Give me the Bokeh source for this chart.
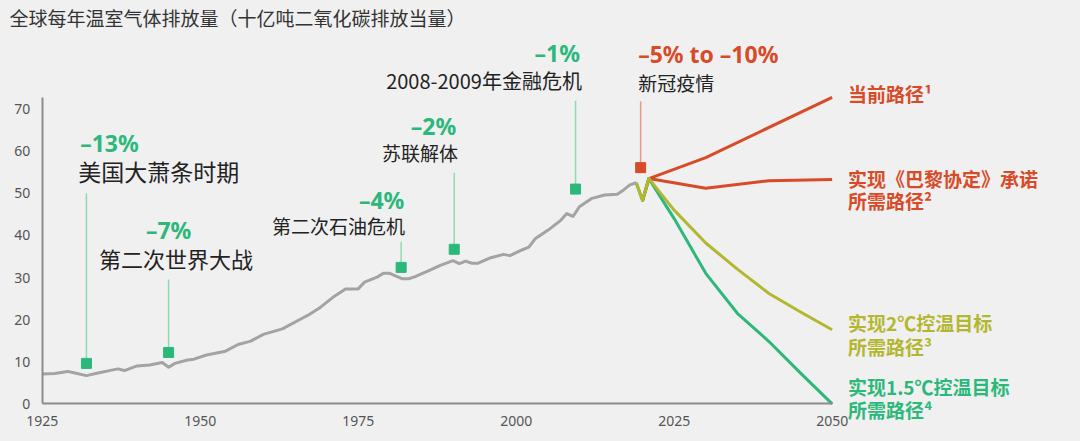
from bokeh.plotting import figure
from bokeh.models import Range1d, Label, FixedTicker
from bokeh.embed import file_html
from bokeh.resources import INLINE

# ---------------- data ----------------
title_text = "全球每年温室气体排放量（十亿吨二氧化碳排放当量）"

hist_years = [1925, 1927, 1929, 1930, 1932, 1934, 1936, 1937, 1938, 1940, 1942, 1944,
              1945, 1946, 1948, 1949, 1951, 1954, 1956, 1958, 1960, 1963, 1966, 1967,
              1969, 1971, 1973, 1975, 1976, 1978, 1979, 1980, 1982, 1983, 1984, 1986,
              1988, 1990, 1991, 1992, 1993, 1994, 1996, 1998, 1999, 2001, 2002, 2003,
              2005, 2007, 2008, 2009, 2010, 2012, 2014, 2016, 2017, 2018, 2019]
hist_values = [7.1, 7.2, 7.7, 7.4, 6.7, 7.4, 8.0, 8.3, 7.9, 9.0, 9.2, 9.8,
               8.7, 9.6, 10.4, 10.6, 11.6, 12.5, 14.1, 14.9, 16.5, 17.8, 20.2, 21.0,
               22.9, 25.3, 27.3, 27.3, 28.9, 30.1, 31.0, 31.0, 29.7, 29.7, 30.2, 31.5,
               32.9, 34.0, 33.3, 33.9, 33.4, 33.4, 34.7, 35.5, 35.2, 36.6, 37.2, 39.2,
               41.2, 43.5, 45.2, 44.5, 46.8, 48.8, 49.6, 49.8, 50.8, 52.0, 52.5]

current_years = [2020, 2021, 2030, 2050]
current_values = [48.3, 53.5, 58.5, 72.8]
paris_years = [2020, 2021, 2030, 2040, 2050]
paris_values = [48.3, 53.5, 51.2, 53.0, 53.3]
two_c_years = [2019, 2020, 2021, 2025, 2030, 2035, 2040, 2045, 2050]
two_c_values = [52.5, 48.3, 53.5, 46.0, 38.2, 32.0, 26.2, 21.8, 17.6]
one_five_years = [2019, 2020, 2021, 2025, 2030, 2035, 2040, 2045, 2050]
one_five_values = [52.5, 48.3, 53.5, 44.0, 31.0, 21.5, 14.8, 7.3, 0.0]

event_years = [1932, 1945, 1981.8, 1990.2, 2009.4, 2019.7]
event_marker_values = [9.6, 12.2, 32.4, 36.7, 51.0, 56.1]
event_leader_tops = [50.0, 29.5, 38.5, 54.9, 72.0, 71.8]
event_changes = ["–13%", "–7%", "–4%", "–2%", "–1%", "–5% to –10%"]
event_names = ["美国大萧条时期", "第二次世界大战", "第二次石油危机", "苏联解体",
               "2008-2009年金融危机", "新冠疫情"]

path_labels_1 = ["当前路径¹", "实现《巴黎协定》承诺", "实现2℃控温目标", "实现1.5℃控温目标"]
path_labels_2 = ["", "所需路径²", "所需路径³", "所需路径⁴"]

y_ticks = [0, 10, 20, 30, 40, 50, 60, 70]
x_ticks = [1925, 1950, 1975, 2000, 2025, 2050]

# ---------------- layout / style ----------------
BG = "#f0f0f0"
GRAY = "#a3a3a3"
GREEN = "#2bb87a"
GREEN_LEADER = "#8edbb2"
RED = "#d84b28"
RED_LEADER = "#e79a86"
OLIVE = "#b3b72f"
CJK = "Noto Sans CJK SC"

# label anchor positions (data coords), alignment, size for each event
change_pos = [(1931.0, 61.9, "left"), (1945.0, 41.2, "center"), (1982.3, 48.3, "right"),
              (1990.5, 66.1, "right"), (2010.1, 83.4, "right"), (2019.3, 83.2, "left")]
name_pos = [(1930.7, 55.4, "left", "23px"), (1934.0, 34.6, "left", "22px"),
            (1982.4, 42.3, "right", "19px"), (1990.8, 59.7, "right", "19px"),
            (2010.4, 76.8, "right", "20px"), (2019.3, 76.3, "left", "19px")]
path_label_x = 2052.5
path_label_y1 = [73.7, 53.5, 19.3, 4.1]
path_label_y2 = [None, 48.3, 13.6, -1.3]
path_colors = [RED, RED, OLIVE, GREEN]

p = figure(width=1080, height=441, output_backend="svg", toolbar_location=None,
           x_range=Range1d(1918.4, 2089.3), y_range=Range1d(-8.95, 95.8),
           min_border_left=0, min_border_right=0, min_border_top=0, min_border_bottom=0)
p.background_fill_color = BG
p.border_fill_color = BG
p.outline_line_color = None
p.xgrid.visible = False
p.ygrid.visible = False

for ax, ticks in ((p.xaxis[0], x_ticks), (p.yaxis[0], y_ticks)):
    ax.ticker = FixedTicker(ticks=ticks)
    ax.axis_line_color = "#8c8c8c"
    ax.axis_line_width = 2
    ax.major_tick_line_color = None
    ax.minor_tick_line_color = None
    ax.major_tick_out = 0
    ax.major_tick_in = 0
    ax.major_label_text_font = "Noto Sans"
    ax.major_label_text_font_size = "14px"
    ax.major_label_text_color = "#555555"
    ax.major_label_standoff = 12
p.xaxis[0].bounds = (1925, 2050)
p.yaxis[0].bounds = (0, 72.8)
p.xaxis[0].fixed_location = 0
p.yaxis[0].fixed_location = 1925

# historical line
p.line(hist_years, hist_values, line_color=GRAY, line_width=3, line_join="round")

# projections
p.line(paris_years, paris_values, line_color=RED, line_width=3, line_join="round")
p.line(current_years, current_values, line_color=RED, line_width=3, line_join="round")
p.line(one_five_years, one_five_values, line_color=GREEN, line_width=3, line_join="round")
p.line(two_c_years, two_c_values, line_color=OLIVE, line_width=3, line_join="round")

# event leaders + markers + labels
for i, yr in enumerate(event_years):
    is_covid = i == len(event_years) - 1
    lc = RED_LEADER if is_covid else GREEN_LEADER
    mc = RED if is_covid else GREEN
    p.segment(x0=[yr], y0=[event_marker_values[i]], x1=[yr], y1=[event_leader_tops[i]],
              line_color=lc, line_width=1.5)
    p.scatter([yr], [event_marker_values[i]], marker="square", size=10,
              fill_color=mc, line_color=mc)
    cx, cy, ca = change_pos[i]
    p.add_layout(Label(x=cx, y=cy, text=event_changes[i], text_align=ca,
                       text_baseline="middle", text_font="Noto Sans",
                       text_font_style="bold", text_font_size="23px",
                       text_color=mc))
    nx, ny, na, ns = name_pos[i]
    p.add_layout(Label(x=nx, y=ny, text=event_names[i], text_align=na,
                       text_baseline="middle", text_font=CJK,
                       text_font_size=ns, text_color="#222222"))

# path labels
for i in range(4):
    p.add_layout(Label(x=path_label_x, y=path_label_y1[i], text=path_labels_1[i],
                       text_align="left", text_baseline="middle", text_font=CJK,
                       text_font_style="bold", text_font_size="19px",
                       text_color=path_colors[i]))
    if path_labels_2[i]:
        p.add_layout(Label(x=path_label_x, y=path_label_y2[i], text=path_labels_2[i],
                           text_align="left", text_baseline="middle", text_font=CJK,
                           text_font_style="bold", text_font_size="19px",
                           text_color=path_colors[i]))

# title
p.add_layout(Label(x=9, y=424, x_units="screen", y_units="screen", text=title_text,
                   text_align="left", text_baseline="middle", text_font=CJK,
                   text_font_size="19px", text_color="#333333"))

html = file_html(p, INLINE)
html = html.replace("<head>", "<head><style>body{background:#f0f0f0;}</style>", 1)
open("out.html", "w").write(html)
